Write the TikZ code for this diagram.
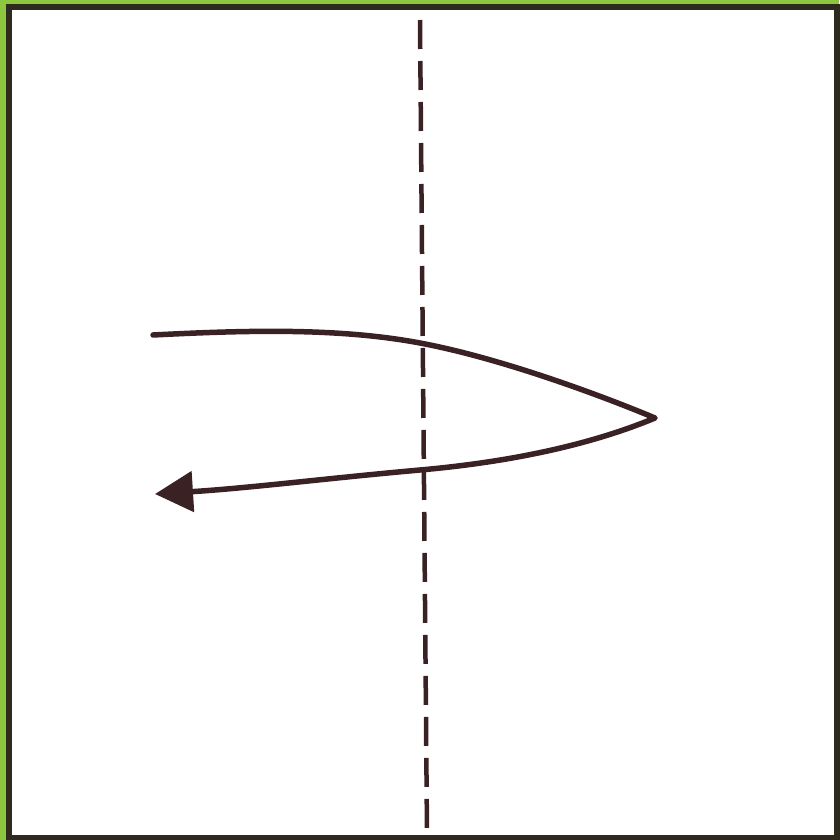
\documentclass[tikz,border=0pt]{standalone}
\usetikzlibrary{arrows.meta}
\definecolor{bggreen}{HTML}{8DC63F}
\definecolor{ink}{HTML}{3A2224}
\definecolor{framecol}{HTML}{2E2A1E}
\tikzset{
  stroke/.style={draw=ink, line width=5.5pt, line cap=round, line join=round},
  foldline/.style={draw=ink, line width=4.5pt, dash pattern=on 29pt off 12pt},
}
\begin{document}
\begin{tikzpicture}[x=1pt,y=-1pt]
\useasboundingbox (0,0) rectangle (839,840);
\fill[bggreen] (0,0) rectangle (839,840);
\filldraw[fill=white, draw=framecol, line width=6pt] (8.5,7.5) rectangle (837,837.5);
\coordinate (dtop) at (420,20);
\coordinate (dbot) at (427,834);
\draw[foldline] (dtop) -- (dbot);
\coordinate (start) at (153,335);
\coordinate (upmid) at (420,343);
\coordinate (tip) at (655,418);
\coordinate (lowmid) at (420,470);
\coordinate (end) at (155,494);
\draw[stroke, -{Triangle[length=38pt,width=40pt]}] (start) .. controls (250,330) and (340,328) .. (upmid)
  .. controls (500,358) and (600,395) .. (tip)
  .. controls (590,445) and (510,462) .. (lowmid)
  .. controls (330,478) and (250,488) .. (end);
\end{tikzpicture}
\end{document}
